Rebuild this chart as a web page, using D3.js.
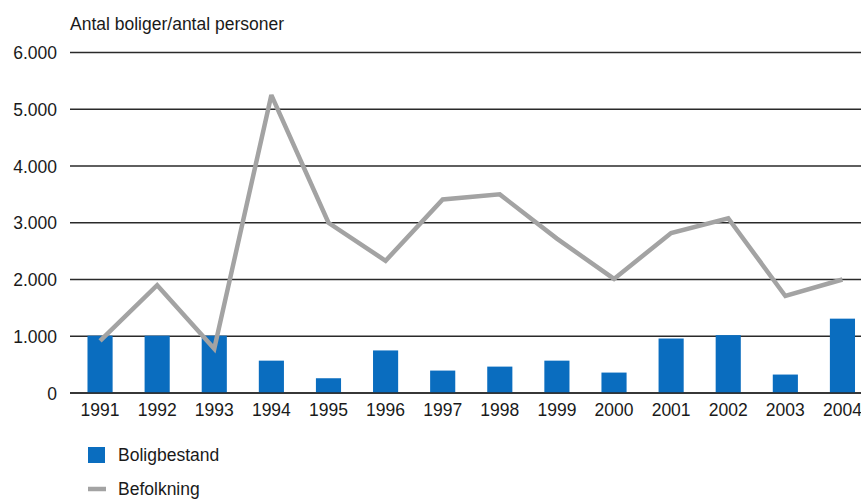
<!DOCTYPE html>
<html><head><meta charset="utf-8">
<script src="https://cdn.jsdelivr.net/npm/d3@7/dist/d3.min.js"></script>
<style>body{margin:0;background:#fff}svg{display:block}text{font-family:"Liberation Sans",Arial,sans-serif;fill:#1a1a1a}</style>
</head><body><svg id="c" width="861" height="500"></svg>
<script>
const years = ["1991","1992","1993","1994","1995","1996","1997","1998","1999","2000","2001","2002","2003","2004"];
const boligbestand = [1010,1010,1010,570,260,750,395,465,570,360,960,1020,325,1310];
const befolkning = [920,1900,780,5250,3000,2330,3410,3500,2720,2010,2820,3080,1710,2000];
const yTicks = [0,1000,2000,3000,4000,5000,6000];
const yTickLabels = ["0","1.000","2.000","3.000","4.000","5.000","6.000"];
const yTitle = "Antal boliger/antal personer";
const legendLabels = ["Boligbestand","Befolkning"];

const svg = d3.select("#c");
const x = d3.scaleBand().domain(years).range([71.5, 871]).paddingInner(0.56).paddingOuter(0.28);
const y = d3.scaleLinear().domain([0,6000]).range([393, 52.5]);

// gridlines + tick labels
const yAxis = d3.axisLeft(y).tickValues(yTicks).tickSize(0).tickPadding(0)
  .tickFormat((d,i)=>yTickLabels[i]);
const ga = svg.append("g").attr("transform","translate(57,0)").call(yAxis);
ga.select(".domain").remove();
ga.selectAll("text").attr("font-size","17.5px").attr("font-family","Liberation Sans, Arial, sans-serif").attr("fill","#1a1a1a").attr("dy","0.35em");

svg.append("g").selectAll("line").data(yTicks).join("line")
  .attr("x1",70).attr("x2",861).attr("y1",d=>y(d)).attr("y2",d=>y(d))
  .attr("stroke","#2a2a2a").attr("stroke-width",1.6);

// bars
svg.append("g").selectAll("rect").data(years).join("rect")
  .attr("x",d=>x(d)).attr("width",x.bandwidth())
  .attr("y",(d,i)=>y(boligbestand[i])).attr("height",(d,i)=>y(0)-y(boligbestand[i]))
  .attr("fill","#0a6dbf");

// baseline redraw over bars
svg.append("line").attr("x1",70).attr("x2",861).attr("y1",y(0)).attr("y2",y(0))
  .attr("stroke","#2a2a2a").attr("stroke-width",1.6);

// line
const line = d3.line().x((d,i)=>x(years[i])+x.bandwidth()/2).y(d=>y(d));
svg.append("path").datum(befolkning).attr("d",line)
  .attr("fill","none").attr("stroke","#a3a3a3").attr("stroke-width",4.5)
  .attr("stroke-linejoin","miter").attr("stroke-miterlimit",3);

// x axis labels
const xAxis = d3.axisBottom(x).tickSize(0).tickPadding(0);
const gx = svg.append("g").attr("transform","translate(0,404)").call(xAxis);
gx.select(".domain").remove();
gx.selectAll("text").attr("font-size","17.5px").attr("font-family","Liberation Sans, Arial, sans-serif").attr("fill","#1a1a1a").attr("dy","0.71em");

// title
svg.append("text").attr("x",70).attr("y",30).attr("font-size","17.5px").text(yTitle);

// legend
svg.append("rect").attr("x",88).attr("y",447).attr("width",17).attr("height",16).attr("fill","#0a6dbf");
svg.append("text").attr("x",118).attr("y",461).attr("font-size","17.5px").text(legendLabels[0]);
svg.append("line").attr("x1",88).attr("x2",106).attr("y1",489).attr("y2",489).attr("stroke","#a3a3a3").attr("stroke-width",4.5);
svg.append("text").attr("x",118).attr("y",495).attr("font-size","17.5px").text(legendLabels[1]);
</script></body></html>
